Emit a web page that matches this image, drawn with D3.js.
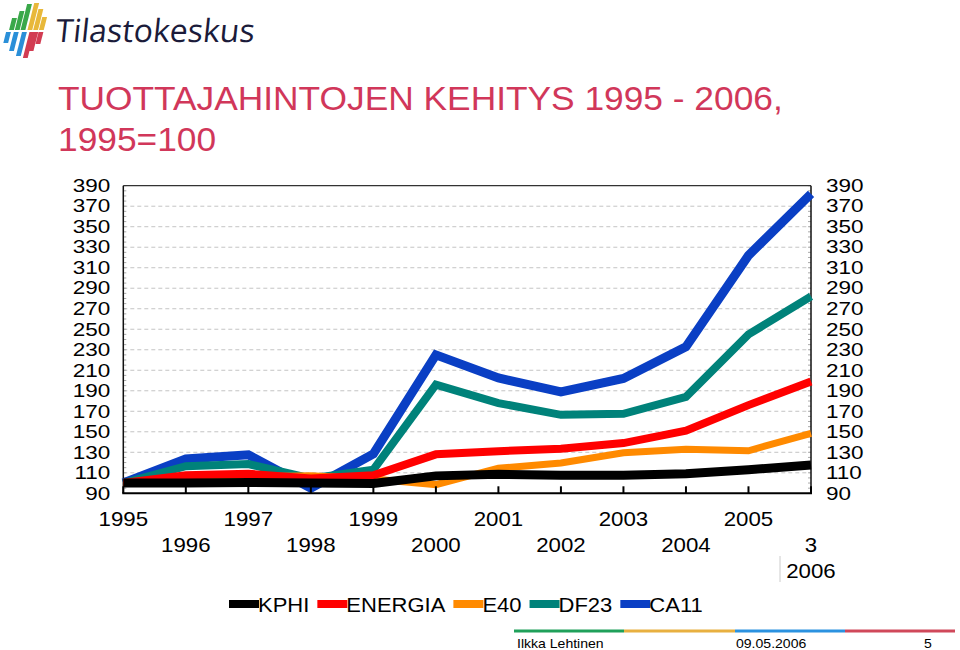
<!DOCTYPE html>
<html>
<head>
<meta charset="utf-8">
<script src="https://cdn.jsdelivr.net/npm/d3@7"></script>
<style>
  html, body { margin: 0; padding: 0; background: #fff; }
  svg { display: block; }
  text { font-family: "Liberation Sans", Arial, sans-serif; }
</style>
</head>
<body>
<svg id="chart" width="960" height="650"></svg>
<script>
// ---- data ----
const years = [1995, 1996, 1997, 1998, 1999, 2000, 2001, 2002, 2003, 2004, 2005, 2006];
const yearLabels = ["1995","1996","1997","1998","1999","2000","2001","2002","2003","2004","2005","2006"];
const yTicks = [90,110,130,150,170,190,210,230,250,270,290,310,330,350,370,390];
const KPHI    = [100, 100, 100.5, 100, 99.5, 107, 108.5, 107.5, 107.5, 109, 113, 117.5];
const ENERGIA = [100, 107.5, 109, 104.5, 107.5, 128, 131, 133.5, 139, 151, 176, 199];
const E40     = [100, 105, 106, 107, 104, 98.5, 114.5, 119.5, 129.5, 133, 131.5, 148.5];
const DF23    = [100, 116.5, 118.5, 104.5, 113, 196, 178, 166.5, 167.5, 184, 245, 282];
const CA11    = [100, 123.5, 127.5, 95, 128.5, 225, 202.5, 189, 202, 233, 322, 382];
const seriesNames = ["KPHI", "ENERGIA", "E40", "DF23", "CA11"];
const seriesColors = ["#000000", "#ff0000", "#ff8a00", "#00827a", "#0a3fc4"];
const seriesWidths = [9, 8, 7, 8, 9];
const seriesValues = [KPHI, ENERGIA, E40, DF23, CA11];

const svg = d3.select("#chart");

// horizontal stretch helper (the slide's type is slightly wider than Liberation Sans)
function stretch(sel, f) {
  sel.each(function () {
    const L = this.getComputedTextLength();
    d3.select(this).attr("textLength", L * f).attr("lengthAdjust", "spacingAndGlyphs");
  });
  return sel;
}

// ---- logo ----
const logo = svg.append("g").attr("transform", "translate(1,0) scale(1.15,1)");
const upper = [[7,18,"#3aa84a"],[12,11,"#3aa84a"],[17,4,"#3aa84a"],[23,3,"#e8b83a"],[28,9,"#e8b83a"],[33,17,"#e8b83a"]];
const lower = [[2,43,"#2a8fd8"],[7,51,"#2a8fd8"],[13,56,"#2a8fd8"],[19,58,"#d23c52"],[24,51,"#d23c52"],[30,44,"#d23c52"]];
const sk = 0.22;
upper.forEach(([x, yt, c]) => {
  const yb = 30, w = 4.2;
  logo.append("polygon")
    .attr("points", [[x, yb],[x+w, yb],[x+w+sk*(yb-yt), yt],[x+sk*(yb-yt), yt]].map(p=>p.join(",")).join(" "))
    .attr("fill", c);
});
lower.forEach(([x, yb, c]) => {
  const yt = 32, w = 4.2;
  logo.append("polygon")
    .attr("points", [[x, yb],[x+w, yb],[x+w+sk*(yb-yt), yt],[x+sk*(yb-yt), yt]].map(p=>p.join(",")).join(" "))
    .attr("fill", c);
});
svg.append("text")
  .attr("x", 55).attr("y", 42)
  .attr("transform", "skewX(-6) translate(4,0)")
  .attr("font-size", 32)
  .attr("fill", "#1b1b3a")
  .style("font-family", "'Open Sans', 'Liberation Sans', sans-serif")
  .text("Tilastokeskus");

// ---- title ----
const titleColor = "#d1375a";
stretch(svg.append("text").attr("x", 58).attr("y", 110).attr("font-size", 33).attr("fill", titleColor)
  .text("TUOTTAJAHINTOJEN KEHITYS 1995 - 2006,"), 1.07);
stretch(svg.append("text").attr("x", 58).attr("y", 151).attr("font-size", 33).attr("fill", titleColor)
  .text("1995=100"), 1.07);

// ---- scales ----
const x0 = 123.3, x1 = 811, yTop = 185.7, yBot = 493.3;
const x = d3.scaleLinear().domain([1995, 2006]).range([x0, x1]);
const y = d3.scaleLinear().domain([90, 390]).range([yBot, yTop]);

// gridlines
svg.append("g").selectAll("line")
  .data(yTicks.filter(v => v > 90 && v < 390))
  .join("line")
  .attr("x1", x0).attr("x2", x1)
  .attr("y1", d => y(d)).attr("y2", d => y(d))
  .attr("stroke", "#c4c4c4").attr("stroke-width", 1)
  .attr("stroke-dasharray", "4,3");

// minor ticks on left/right
const minor = d3.range(90, 391, 5);
svg.append("g").selectAll("line").data(minor).join("line")
  .attr("x1", x0).attr("x2", x0 + 3).attr("y1", d => y(d)).attr("y2", d => y(d))
  .attr("stroke", "#aaa").attr("stroke-width", 1);
svg.append("g").selectAll("line").data(minor).join("line")
  .attr("x1", x1 - 3).attr("x2", x1).attr("y1", d => y(d)).attr("y2", d => y(d))
  .attr("stroke", "#aaa").attr("stroke-width", 1);

// frame
svg.append("line").attr("x1", x0).attr("x2", x1).attr("y1", yTop).attr("y2", yTop)
  .attr("stroke", "#333").attr("stroke-width", 1.2);
svg.append("line").attr("x1", x0).attr("x2", x0).attr("y1", yTop).attr("y2", yBot)
  .attr("stroke", "#111").attr("stroke-width", 1.5);
svg.append("line").attr("x1", x1).attr("x2", x1).attr("y1", yTop).attr("y2", yBot)
  .attr("stroke", "#111").attr("stroke-width", 1.5);

// y axes labels
const yAxisL = svg.append("g").attr("transform", `translate(${x0 - 13},0)`)
  .call(d3.axisLeft(y).tickValues(yTicks).tickSize(0).tickPadding(0));
yAxisL.select(".domain").remove();
yAxisL.selectAll("text").attr("font-size", 18).attr("fill", "#000")
  .style("font-family", "'Liberation Sans', Arial, sans-serif");
stretch(yAxisL.selectAll("text"), 1.25);
const yAxisR = svg.append("g").attr("transform", `translate(${x1 + 15},0)`)
  .call(d3.axisRight(y).tickValues(yTicks).tickSize(0).tickPadding(0));
yAxisR.select(".domain").remove();
yAxisR.selectAll("text").attr("font-size", 18).attr("fill", "#000")
  .style("font-family", "'Liberation Sans', Arial, sans-serif");
stretch(yAxisR.selectAll("text"), 1.25);

// ---- series lines ----
const line = d3.line().x((d, i) => x(years[i])).y(d => y(d)).curve(d3.curveLinear);
const order = [4, 3, 2, 1, 0];
order.forEach(k => {
  svg.append("path")
    .datum(seriesValues[k])
    .attr("d", line)
    .attr("fill", "none")
    .attr("stroke", seriesColors[k])
    .attr("stroke-width", seriesWidths[k])
    .attr("stroke-linejoin", "miter")
    .attr("stroke-linecap", "butt");
});

// x axis (ticks upward)
svg.append("g").selectAll("line").data(years).join("line")
  .attr("x1", d => x(d)).attr("x2", d => x(d))
  .attr("y1", yBot).attr("y2", yBot - 7)
  .attr("stroke", "#000").attr("stroke-width", 2);
svg.append("line").attr("x1", x0 - 1).attr("x2", x1 + 1).attr("y1", yBot).attr("y2", yBot)
  .attr("stroke", "#000").attr("stroke-width", 2);

// x labels (staggered)
const xl = svg.append("g").attr("font-size", 21).attr("text-anchor", "middle");
years.forEach((yr, i) => {
  if (yr === 2006) return;
  xl.append("text").attr("x", x(yr)).attr("y", i % 2 === 0 ? 526 : 552).text(yearLabels[i]);
});
xl.append("text").attr("x", x(2006)).attr("y", 552).text("3");
xl.append("text").attr("x", x(2006)).attr("y", 578).text(yearLabels[11]);
stretch(xl.selectAll("text"), 1.06);
svg.append("line").attr("x1", 780).attr("x2", 780).attr("y1", 556).attr("y2", 582)
  .attr("stroke", "#ccc").attr("stroke-width", 1);

// ---- legend ----
const legend = svg.append("g");
let lx = 229;
seriesNames.forEach((name, k) => {
  legend.append("rect").attr("x", lx).attr("y", 600).attr("width", 30).attr("height", 8)
    .attr("fill", seriesColors[k]);
  const t = legend.append("text").attr("x", lx + 29).attr("y", 612).attr("font-size", 20)
    .attr("fill", "#000").text(name);
  const L = t.node().getComputedTextLength() * 1.1;
  t.attr("textLength", L).attr("lengthAdjust", "spacingAndGlyphs");
  lx += 29 + L + 8;
});

// ---- footer ----
const footColors = ["#1fa05a", "#e8b040", "#2b92e0", "#d0485a"];
const fx = [514, 624, 735, 845, 955];
footColors.forEach((c, i) => {
  svg.append("rect").attr("x", fx[i]).attr("y", 629.5).attr("width", fx[i+1] - fx[i]).attr("height", 3).attr("fill", c);
});
const foot = svg.append("g").attr("font-size", 13).attr("fill", "#000");
foot.append("text").attr("x", 517).attr("y", 648).text("Ilkka Lehtinen");
foot.append("text").attr("x", 736).attr("y", 648).text("09.05.2006");
foot.append("text").attr("x", 924).attr("y", 648).text("5");
stretch(foot.selectAll("text"), 1.08);
</script>
</body>
</html>
